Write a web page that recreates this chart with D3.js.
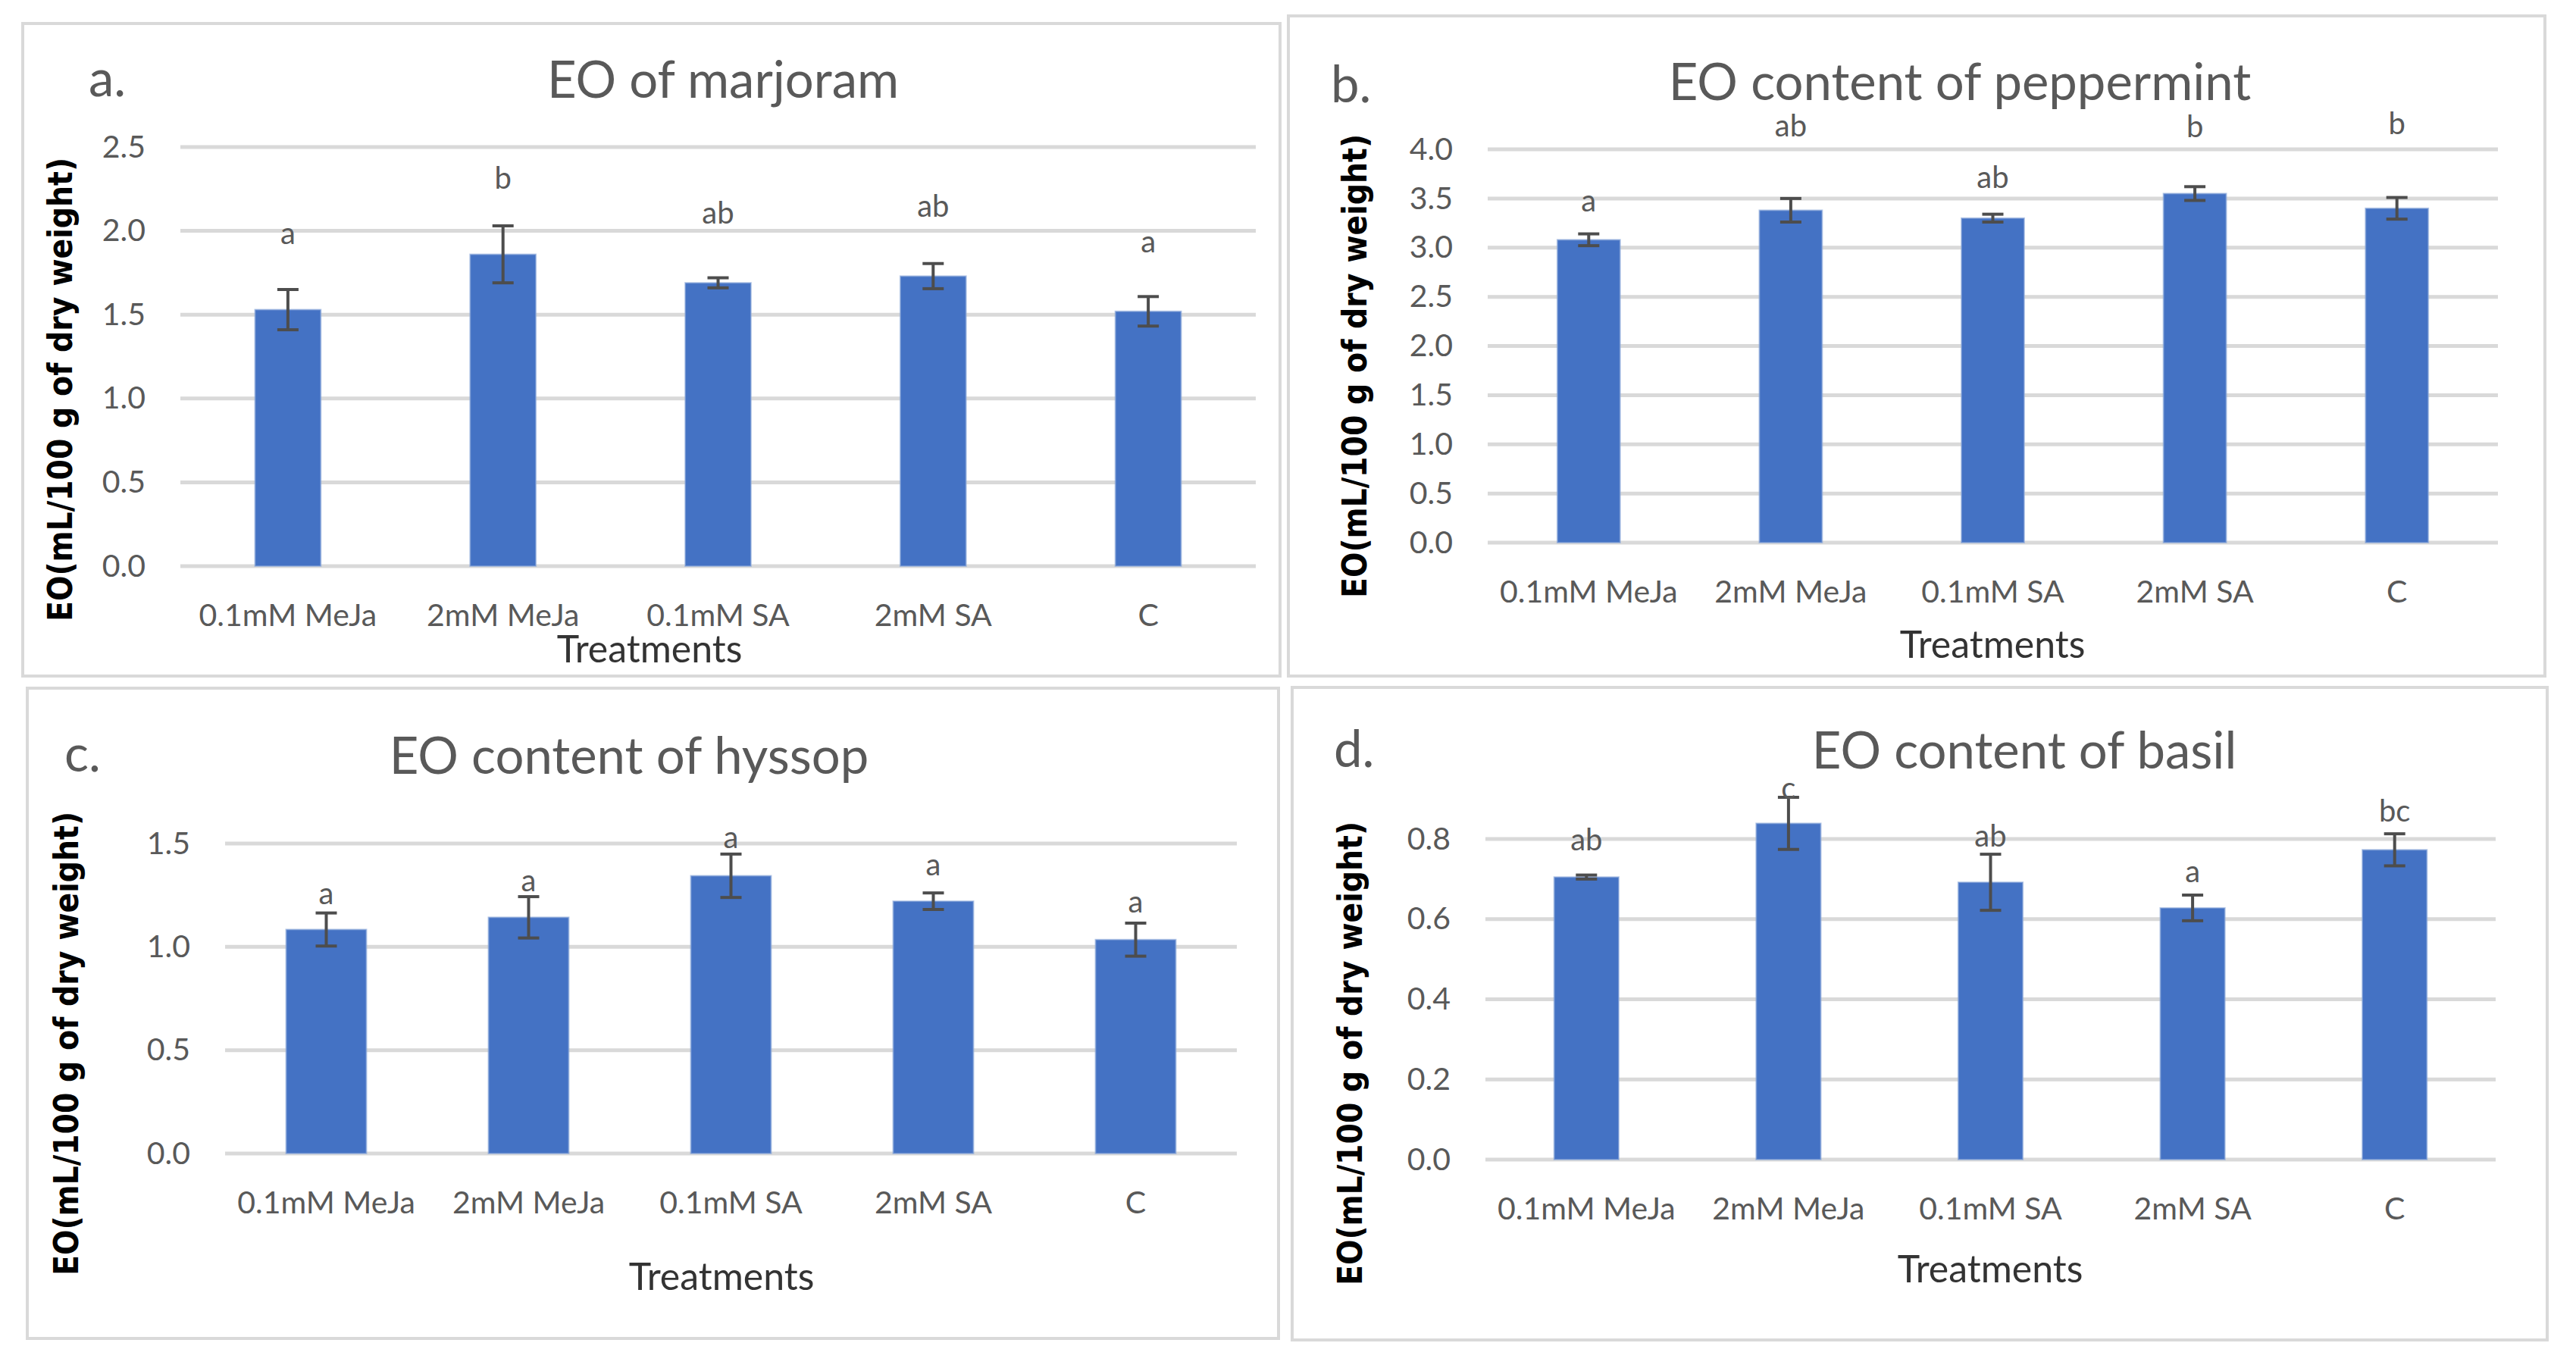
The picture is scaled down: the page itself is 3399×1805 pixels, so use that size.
<html>
  <head>
    <meta charset="UTF-8">
    <script src="https://d3js.org/d3.v7.min.js"></script>
    <style>
      body {
        margin: 0;
        background: #fff;
      }

      svg text {
        font-family: Lato, "Open Sans", sans-serif;
      }

      .tick text {
        fill: #595959;
        font-size: 41px;
      }

      text.title, text.tag {
        fill: #595959;
        font-size: 67px;
      }

      text.xlab {
        fill: #333;
        font-size: 50px;
      }

      text.letter {
        fill: #595959;
        font-size: 40px;
      }

      text.ylab {
        font-family: "DejaVu Sans", Verdana, sans-serif;
        font-weight: bold;
        font-size: 44px;
        fill: #000;
      }
    </style>
  </head>
  <body>
    <svg width="3399" height="1805"></svg>
    <script>
      // values
      const categories = ["0.1mM MeJa", "2mM MeJa", "0.1mM SA", "2mM SA", "C"];

      const marjoramMean = [1.53, 1.86, 1.69, 1.73, 1.52];
      const marjoramErr = [0.12, 0.17, 0.03, 0.075, 0.088];
      const marjoramLetters = ["a", "b", "ab", "ab", "a"];
      const marjoramLetterAt = [1.99, 2.32, 2.11, 2.15, 1.94];
      const marjoramTicks = [0, 0.5, 1.0, 1.5, 2.0, 2.5];

      const peppermintMean = [3.08, 3.38, 3.30, 3.55, 3.40];
      const peppermintErr = [0.06, 0.12, 0.04, 0.07, 0.11];
      const peppermintLetters = ["a", "ab", "ab", "b", "b"];
      const peppermintLetterAt = [3.48, 4.25, 3.72, 4.24, 4.27];
      const peppermintTicks = [0, 0.5, 1.0, 1.5, 2.0, 2.5, 3.0, 3.5, 4.0];

      const hyssopMean = [1.084, 1.143, 1.344, 1.221, 1.035];
      const hyssopErr = [0.08, 0.10, 0.105, 0.04, 0.08];
      const hyssopLetters = ["a", "a", "a", "a", "a"];
      const hyssopLetterAt = [1.262, 1.323, 1.534, 1.401, 1.221];
      const hyssopTicks = [0, 0.5, 1.0, 1.5];

      const basilMean = [0.705, 0.839, 0.692, 0.628, 0.773];
      const basilErr = [0.005, 0.065, 0.07, 0.032, 0.04];
      const basilLetters = ["ab", "c", "ab", "a", "bc"];
      const basilLetterAt = [0.80, 0.929, 0.809, 0.721, 0.871];
      const basilTicks = [0, 0.2, 0.4, 0.6, 0.8];

      const yLabel = "EO(mL/100 g of dry weight)";

      const panels = [
        {
          tag: "a.", title: "EO of marjoram",
          mean: marjoramMean, err: marjoramErr, letters: marjoramLetters, letterAt: marjoramLetterAt, ticks: marjoramTicks,
          box: [30, 31, 1689, 892], x0: 238, x1: 1657, y0: 747, yTop: 194, barRatio: 0.306,
          titleX: 954, titleY: 129, tagX: 117, tagY: 127, yLabX: 79, yLabY: 514, xLabX: 857, xLabY: 874
        },
        {
          tag: "b.", title: "EO content of peppermint",
          mean: peppermintMean, err: peppermintErr, letters: peppermintLetters, letterAt: peppermintLetterAt, ticks: peppermintTicks,
          box: [1700, 21, 3358, 892], x0: 1963, x1: 3296, y0: 716, yTop: 197, barRatio: 0.311,
          titleX: 2586, titleY: 132, tagX: 1756, tagY: 135, yLabX: 1787, yLabY: 483, xLabX: 2629, xLabY: 868
        },
        {
          tag: "c.", title: "EO content of hyssop",
          mean: hyssopMean, err: hyssopErr, letters: hyssopLetters, letterAt: hyssopLetterAt, ticks: hyssopTicks,
          box: [36, 908, 1687, 1766], x0: 297, x1: 1632, y0: 1522, yTop: 1113, barRatio: 0.397,
          titleX: 830, titleY: 1021, tagX: 85, tagY: 1018, yLabX: 87, yLabY: 1377, xLabX: 952, xLabY: 1702
        },
        {
          tag: "d.", title: "EO content of basil",
          mean: basilMean, err: basilErr, letters: basilLetters, letterAt: basilLetterAt, ticks: basilTicks,
          box: [1705, 907, 3361, 1768], x0: 1960, x1: 3293, y0: 1530, yTop: 1107, barRatio: 0.32,
          titleX: 2671, titleY: 1014, tagX: 1760, tagY: 1012, yLabX: 1781, yLabY: 1390, xLabX: 2626, xLabY: 1692
        }
      ];

      const svg = d3.select("svg");
      svg.append("rect").attr("width", 3399).attr("height", 1805).attr("fill", "#fff");

      panels.forEach((p) => {
        const g = svg.append("g");

        g.append("rect")
          .attr("x", p.box[0])
          .attr("y", p.box[1])
          .attr("width", p.box[2] - p.box[0])
          .attr("height", p.box[3] - p.box[1])
          .attr("fill", "#fff")
          .attr("stroke", "#d9d9d9")
          .attr("stroke-width", 4);

        const x = d3.scaleBand()
          .domain(categories)
          .range([p.x0, p.x1])
          .paddingInner(1 - p.barRatio)
          .paddingOuter((1 - p.barRatio) / 2);

        const y = d3.scaleLinear()
          .domain([0, p.ticks[p.ticks.length - 1]])
          .range([p.y0, p.yTop]);

        // gridlines (the 0 line doubles as the category axis)
        g.append("g")
          .selectAll("line")
          .data(p.ticks)
          .join("line")
            .attr("x1", p.x0)
            .attr("x2", p.x1)
            .attr("y1", (d) => y(d))
            .attr("y2", (d) => y(d))
            .attr("stroke", "#d9d9d9")
            .attr("stroke-width", 5);

        const yAxis = g.append("g")
          .attr("transform", `translate(${p.x0},0)`)
          .call(d3.axisLeft(y).tickValues(p.ticks).tickFormat(d3.format(".1f")).tickSize(0).tickPadding(46));
        yAxis.select(".domain").remove();
        yAxis.selectAll("text").attr("font-family", null).attr("font-size", null);

        const xAxis = g.append("g")
          .attr("transform", `translate(0,${p.y0})`)
          .call(d3.axisBottom(x).tickSize(0));
        xAxis.select(".domain").remove();
        xAxis.selectAll("text").attr("font-family", null).attr("font-size", null).attr("y", 79).attr("dy", 0);

        const rows = categories.map((c, i) => ({
          cat: c, mean: p.mean[i], err: p.err[i], letter: p.letters[i], at: p.letterAt[i]
        }));

        g.append("g")
          .selectAll("rect")
          .data(rows)
          .join("rect")
            .attr("x", (d) => x(d.cat))
            .attr("width", x.bandwidth())
            .attr("y", (d) => y(d.mean))
            .attr("height", (d) => y(0) - y(d.mean))
            .attr("fill", "#4472c4")
            .attr("stroke", "#8eaadb")
            .attr("stroke-opacity", 0.6)
            .attr("stroke-width", 2);

        const cx = (d) => x(d.cat) + x.bandwidth() / 2;
        const eb = g.append("g")
          .attr("stroke", "#4d4d4d")
          .attr("stroke-width", 4)
          .selectAll("g")
          .data(rows)
          .join("g");
        eb.append("line")
          .attr("x1", cx).attr("x2", cx)
          .attr("y1", (d) => y(d.mean + d.err))
          .attr("y2", (d) => y(d.mean - d.err));
        eb.append("line")
          .attr("x1", (d) => cx(d) - 14).attr("x2", (d) => cx(d) + 14)
          .attr("y1", (d) => y(d.mean + d.err))
          .attr("y2", (d) => y(d.mean + d.err));
        eb.append("line")
          .attr("x1", (d) => cx(d) - 14).attr("x2", (d) => cx(d) + 14)
          .attr("y1", (d) => y(d.mean - d.err))
          .attr("y2", (d) => y(d.mean - d.err));

        g.append("g")
          .selectAll("text")
          .data(rows)
          .join("text")
            .attr("class", "letter")
            .attr("x", cx)
            .attr("y", (d) => y(d.at))
            .attr("text-anchor", "middle")
            .attr("dominant-baseline", "central")
            .text((d) => d.letter);

        g.append("text")
          .attr("class", "title")
          .attr("x", p.titleX)
          .attr("y", p.titleY)
          .attr("text-anchor", "middle")
          .text(p.title);

        g.append("text")
          .attr("class", "tag")
          .attr("x", p.tagX)
          .attr("y", p.tagY)
          .text(p.tag);

        g.append("text")
          .attr("class", "xlab")
          .attr("x", p.xLabX)
          .attr("y", p.xLabY)
          .attr("text-anchor", "middle")
          .text("Treatments");

        g.append("text")
          .attr("class", "ylab")
          .attr("transform", `translate(${p.yLabX},${p.yLabY}) rotate(-90)`)
          .attr("text-anchor", "middle")
          .attr("dominant-baseline", "central")
          .attr("textLength", 612)
          .attr("lengthAdjust", "spacingAndGlyphs")
          .text(yLabel);
      });
    </script>
  </body>
</html>
